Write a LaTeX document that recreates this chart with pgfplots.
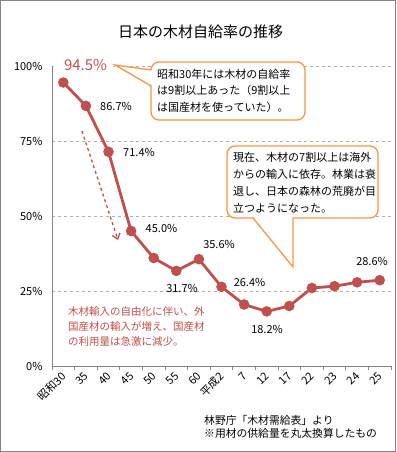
\documentclass[border=0pt]{standalone}
\usepackage{pgfplots}
\pgfplotsset{compat=1.18}
\usetikzlibrary{arrows.meta}
\usepackage{fontspec}
\setmainfont{Noto Sans CJK JP}
\definecolor{lred}{RGB}{192,80,77}
\definecolor{cor}{RGB}{247,150,70}
\definecolor{gridg}{RGB}{175,175,175}
\definecolor{axg}{RGB}{134,134,134}
\begin{document}
\begin{tikzpicture}[x=1pt,y=1pt]
\useasboundingbox (0,0) rectangle (396,452);
\fill[white] (0,0) rectangle (396,452);
\draw[axg, line width=1pt] (0.5,0.5) rectangle (395.5,451.5);
\begin{axis}[
  at={(52pt,86pt)}, anchor=south west,
  scale only axis, width=339pt, height=300pt,
  xmin=-0.5, xmax=14.5, ymin=0, ymax=100,
  axis x line*=bottom, axis y line*=left,
  axis line style={axg, line width=0.8pt},
  xtick={0,...,14},
  xticklabels={昭和30,35,40,45,50,55,60,平成2,7,12,17,22,23,24,25},
  minor xtick={-0.5,0.5,...,14.5},
  major tick length=0pt, minor tick length=4pt, tick align=outside,
  minor tick style={axg, line width=0.8pt},
  ytick={0,25,50,75,100},
  yticklabels={0\%,25\%,50\%,75\%,100\%},
  ymajorgrids, major grid style={gridg, dashed, line width=0.6pt},
  tick label style={font=\fontsize{11}{13}\selectfont},
  xticklabel style={xshift=3pt, yshift=-6pt, rotate=45, anchor=east},
  yticklabel style={xshift=-6pt},
  clip=false,
]
\addplot[lred, line width=2.8pt, mark=*, mark size=3.8pt, mark options={fill=lred, solid}] coordinates {
(0,94.5)(1,86.7)(2,71.4)(3,45.0)(4,36.0)(5,31.7)(6,35.6)(7,26.4)(8,20.5)(9,18.2)(10,20.0)(11,26.0)(12,26.6)(13,27.9)(14,28.6)};
\end{axis}
% title
\node[font=\fontsize{15}{17}\selectfont] at (200.5,420) {日本の木材自給率の推移};
% data labels
\fill[white] (53.5,381) rectangle (113,393);
\node[lred, font=\fontsize{15}{17}\selectfont, inner sep=0pt] at (85.5,387) {94.5\%};
\begin{scope}[every node/.style={font=\fontsize{11}{13}\selectfont, inner sep=0pt}]
\node at (116,346) {86.7\%};
\node at (139,300) {71.4\%};
\node at (161.5,224) {45.0\%};
\node at (219,208) {35.6\%};
\node at (182,164) {31.7\%};
\node at (249.5,170) {26.4\%};
\node at (267,123) {18.2\%};
\node at (372,191) {28.6\%};
\end{scope}
% callout 1
\draw[cor, line width=1.3pt, fill=white, rounded corners=8pt] (151,332) rectangle (305,390);
\fill[white] (152.8,382) -- (115,387) -- (152.8,366) -- cycle;
\draw[cor, line width=1.3pt] (151.2,382) -- (115,387) -- (151.2,366);
\node[anchor=west, align=left, inner sep=0pt, font=\fontsize{11}{16.5}\selectfont] at (157,361.5) {昭和30年には木材の自給率\\は9割以上あった（9割以上\\は国産材を使っていた）。};
% callout 2
\draw[cor, line width=1.3pt, fill=white, rounded corners=8pt] (227,234) rectangle (378,306);
\fill[white] (253,235.8) -- (293,185) -- (293,235.8) -- cycle;
\draw[cor, line width=1.3pt] (253,234) -- (293,185) -- (293,234);
\node[anchor=west, align=left, inner sep=0pt, font=\fontsize{11}{17}\selectfont] at (233,269.5) {現在、木材の7割以上は海外\\からの輸入に依存。林業は衰\\退し、日本の森林の荒廃が目\\立つようになった。};
% arrow
\draw[lred, dashed, line width=1.3pt, -{Straight Barb[length=5pt,width=8pt]}] (82,321) -- (118,212);
% red note
\node[lred, anchor=west, align=left, inner sep=0pt, font=\fontsize{10.5}{15}\selectfont] at (68,125) {木材輸入の自由化に伴い、外\\国産材の輸入が増え、国産材\\の利用量は急激に減少。};
% source
\node[anchor=west, align=left, inner sep=0pt, font=\fontsize{10.8}{13}\selectfont] at (204,25) {林野庁「木材需給表」より\\※用材の供給量を丸太換算したもの};
\end{tikzpicture}
\end{document}
